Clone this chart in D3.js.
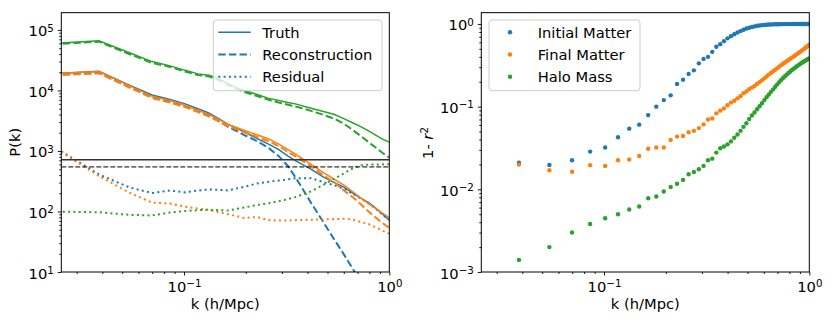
<!DOCTYPE html>
<html><head><meta charset="utf-8">
<script src="https://cdn.jsdelivr.net/npm/d3@7"></script>
<style>
body{margin:0;background:#fff}
svg{display:block}
text{font-family:"DejaVu Sans",sans-serif;fill:#000}
</style>
</head><body>
<svg id="c" width="831" height="322"></svg>
<script>
// ---------- data ----------
const kLine = [0.0228,0.0385,0.0542,0.0699,0.0856,0.1013,0.117,0.1327,0.1484,0.1641,0.1798,0.1955,0.2269,0.2583,0.2897,0.3211,0.3525,0.4153,0.4781,0.5409,0.6037,0.6665,0.7293,0.7921,0.8549,0.9177,0.9962];

const truthInitial = [1.9e4,2.07e4,1.22e4,8.4e3,7.1e3,6.0e3,5.0e3,4.2e3,3.4e3,2.75e3,2.4e3,2.1e3,1.6e3,1.3e3,1.05e3,820,680,500,370,300,250,200,165,140,115,93,73];
const reconInitial = [1.8e4,1.95e4,1.15e4,7.8e3,6.6e3,5.5e3,4.6e3,3.8e3,3.1e3,2.5e3,2.15e3,1.85e3,1.45e3,1.12e3,820,560,350,140,66,34,19,11,7,5,4,3,2];
const residInitial = [1.22e3,410,250,202,222,207,222,232,228,222,240,255,290,310,325,340,355,355,305,270,235,195,162,138,113,92,72];

const truthFinal = [1.9e4,2.05e4,1.2e4,8.0e3,6.8e3,5.7e3,4.7e3,4.0e3,3.3e3,2.75e3,2.45e3,2.2e3,1.85e3,1.58e3,1.3e3,1.05e3,870,600,440,340,270,210,165,135,114,96,80];
const reconFinal = [1.78e4,1.92e4,1.12e4,7.5e3,6.3e3,5.3e3,4.4e3,3.7e3,3.05e3,2.55e3,2.3e3,2.05e3,1.7e3,1.45e3,1.2e3,960,800,560,395,300,220,170,130,100,80,66,54];
const residFinal = [1.2e3,385,205,140,135,120,112,106,97,90,84,78,81,72,71,71,72,73,74,75,76,73,67,62,55,49,43];

const truthHalo = [5.95e4,6.6e4,4.2e4,3.0e4,2.55e4,2.15e4,1.88e4,1.78e4,1.55e4,1.3e4,1.12e4,1.0e4,8.6e3,7.4e3,6.8e3,6.3e3,5.95e3,5.1e3,4.5e3,4.0e3,3.4e3,2.9e3,2.5e3,2.15e3,1.85e3,1.6e3,1.4e3];
const reconHalo = [5.8e4,6.4e4,4.0e4,2.85e4,2.45e4,2.05e4,1.8e4,1.7e4,1.47e4,1.23e4,1.06e4,9.5e3,8.1e3,7.0e3,6.3e3,5.8e3,5.4e3,4.6e3,3.95e3,3.4e3,2.8e3,2.2e3,1.75e3,1.4e3,1.15e3,950,780];
const residHalo = [100,97,88,86,96,102,105,107,105,104,110,116,128,137,148,160,175,215,275,350,430,520,580,595,600,600,605];

const noiseLevels = [718, 545];

const kBins = [0.0385,0.0542,0.0699,0.0856,0.1013,0.117,0.1327,0.1484,0.1641,0.1798,0.1955,0.2112,0.2269,0.2426,0.2583,0.274,0.2897,0.3054,0.3211,0.3368,0.3525,0.3682,0.3839,0.3996,0.4153,0.431,0.4467,0.4624,0.4781,0.4938,0.5095,0.5252,0.5409,0.5566,0.5723,0.588,0.6037,0.6194,0.6351,0.6508,0.6665,0.6822,0.6979,0.7136,0.7293,0.745,0.7607,0.7764,0.7921,0.8078,0.8235,0.8392,0.8549,0.8706,0.8863,0.902,0.9177,0.9334,0.9491,0.9648,0.9805,0.9962];

const corrInitial = [0.021,0.0197,0.0225,0.0286,0.032,0.0427,0.0542,0.0606,0.079,0.10,0.12,0.137,0.188,0.212,0.249,0.275,0.334,0.378,0.40,0.46,0.53,0.57,
 0.62,0.67,0.71,0.75,0.79,0.82,0.85,0.88,0.90,0.92,0.935,0.95,0.96,0.968,0.975,0.98,0.984,0.987,0.99,0.992,0.993,0.994,0.995,0.996,0.996,0.997,0.997,0.997,0.998,0.998,0.998,0.998,0.998,0.999,0.999,0.999,0.999,0.999,0.999,0.999];
const corrFinal = [0.0199,0.017,0.0163,0.0196,0.0192,0.0225,0.0229,0.0253,0.031,0.032,0.032,0.0396,0.0434,0.0442,0.049,0.051,0.055,0.061,0.070,0.072,0.083,0.0895,
 0.095,0.104,0.112,0.118,0.126,0.134,0.145,0.153,0.163,0.170,0.178,0.188,0.198,0.208,0.220,0.232,0.244,0.256,0.268,0.28,0.292,0.305,0.318,0.33,0.342,0.355,0.367,0.38,0.392,0.405,0.418,0.432,0.446,0.46,0.475,0.49,0.506,0.522,0.54,0.557];
const corrHalo = [0.0014,0.0020,0.0030,0.0038,0.00447,0.0050,0.0057,0.0062,0.0078,0.0082,0.0094,0.0107,0.0117,0.013,0.0152,0.0162,0.0175,0.0192,0.0225,0.0235,0.0278,0.0314,
 0.033,0.035,0.038,0.042,0.046,0.051,0.057,0.063,0.071,0.078,0.085,0.093,0.101,0.11,0.12,0.13,0.14,0.151,0.162,0.174,0.186,0.198,0.21,0.222,0.233,0.244,0.255,0.266,0.277,0.288,0.298,0.308,0.318,0.328,0.338,0.347,0.356,0.365,0.374,0.383];

const leftLegend = ["Truth","Reconstruction","Residual"];
const rightLegend = ["Initial Matter","Final Matter","Halo Mass"];

// ---------- config ----------
const FS = 14.7;
const COL = {blue:"#1f77b4", orange:"#ff7f0e", green:"#2ca02c"};
const xDomain = [0.02525, 1];
const svg = d3.select("#c");

function makePanel(box, yDomain) {
  const x = d3.scaleLog().domain(xDomain).range([box.x0, box.x1]);
  const y = d3.scaleLog().domain(yDomain).range([box.y1, box.y0]);
  return {x, y, box};
}

function minorsFor(domain) {
  const out = [];
  const lo = Math.floor(Math.log10(domain[0])), hi = Math.ceil(Math.log10(domain[1]));
  for (let d = lo; d <= hi; d++) for (let m = 2; m <= 9; m++) {
    const v = m * Math.pow(10, d);
    if (v >= domain[0] * 0.9999 && v <= domain[1] * 1.0001) out.push(v);
  }
  return out;
}
function majorsFor(domain) {
  const out = [];
  const lo = Math.ceil(Math.log10(domain[0]) - 1e-6), hi = Math.floor(Math.log10(domain[1]) + 1e-6);
  for (let d = lo; d <= hi; d++) out.push(Math.pow(10, d));
  return out;
}
function powLabel(sel, v) {
  const e = Math.round(Math.log10(v));
  sel.text(null);
  sel.append("tspan").text("10");
  sel.append("tspan").attr("dy", "-0.48em").attr("font-size", (FS * 0.7) + "px")
     .text(e < 0 ? "\u2212" + (-e) : String(e));
}

function drawAxes(p) {
  const {x, y, box} = p;
  const g = svg.append("g");
  // x minor
  g.append("g").attr("transform", `translate(0,${box.y1})`)
    .call(d3.axisBottom(x).tickValues(minorsFor(xDomain)).tickSize(2).tickSizeOuter(0).tickFormat(() => ""))
    .call(s => s.select(".domain").remove());
  // x major
  const xa = g.append("g").attr("transform", `translate(0,${box.y1})`)
    .call(d3.axisBottom(x).tickValues(majorsFor(xDomain)).tickSize(3.5).tickSizeOuter(0))
    .call(s => s.select(".domain").remove());
  xa.selectAll(".tick text").attr("y", 19.7).attr("dy", null)
    .attr("font-size", FS + "px").attr("font-family", "DejaVu Sans")
    .each(function(v){ powLabel(d3.select(this), v); });
  // y minor
  const yd = y.domain();
  g.append("g").attr("transform", `translate(${box.x0},0)`)
    .call(d3.axisLeft(y).tickValues(minorsFor(yd)).tickSize(2).tickSizeOuter(0).tickFormat(() => ""))
    .call(s => s.select(".domain").remove());
  const ya = g.append("g").attr("transform", `translate(${box.x0},0)`)
    .call(d3.axisLeft(y).tickValues(majorsFor(yd)).tickSize(3.5).tickSizeOuter(0))
    .call(s => s.select(".domain").remove());
  ya.selectAll(".tick text").attr("x", -7.5).attr("dy", null).attr("y", 6)
    .attr("font-size", FS + "px").attr("font-family", "DejaVu Sans")
    .each(function(v){ powLabel(d3.select(this), v); });
  g.selectAll(".tick line").attr("stroke", "#000").attr("stroke-width", 0.9);
  // frame
  svg.append("rect").attr("x", box.x0).attr("y", box.y0)
    .attr("width", box.x1 - box.x0).attr("height", box.y1 - box.y0)
    .attr("fill", "none").attr("stroke", "#000").attr("stroke-width", 1);
  // x label
  svg.append("text").attr("x", (box.x0 + box.x1) / 2).attr("y", 308.5)
    .attr("text-anchor", "middle").attr("font-size", FS + "px").text("k (h/Mpc)");
}

// ---------- left panel ----------
const L = makePanel({x0:61.3, x1:389.3, y0:12.67, y1:272}, [10, 1.93e5]);
svg.append("clipPath").attr("id", "clipL").append("rect")
  .attr("x", L.box.x0).attr("y", L.box.y0).attr("width", L.box.x1 - L.box.x0).attr("height", L.box.y1 - L.box.y0);
const gl = svg.append("g").attr("clip-path", "url(#clipL)");
const line = d3.line().x(d => L.x(d[0])).y(d => L.y(Math.max(d[1], 1e-3)));
const zipK = arr => kLine.map((k, i) => [k, arr[i]]);

const series = [
  [truthInitial, COL.blue, "solid"], [reconInitial, COL.blue, "dashed"], [residInitial, COL.blue, "dotted"],
  [truthFinal, COL.orange, "solid"], [reconFinal, COL.orange, "dashed"], [residFinal, COL.orange, "dotted"],
  [truthHalo, COL.green, "solid"], [reconHalo, COL.green, "dashed"], [residHalo, COL.green, "dotted"]
];
const STY = {
  solid: {w:1.5, dash:null},
  dashed: {w:2, dash:"7.4,3.2"},
  dotted: {w:2, dash:"2,3.3"}
};
series.forEach(([arr, c, st]) => {
  gl.append("path").attr("d", line(zipK(arr))).attr("fill", "none")
    .attr("stroke", c).attr("stroke-width", STY[st].w)
    .attr("stroke-dasharray", STY[st].dash);
});
// noise levels
gl.append("line").attr("x1", L.box.x0).attr("x2", L.box.x1)
  .attr("y1", L.y(noiseLevels[0])).attr("y2", L.y(noiseLevels[0]))
  .attr("stroke", "#333").attr("stroke-width", 1.5);
gl.append("line").attr("x1", L.box.x0).attr("x2", L.box.x1)
  .attr("y1", L.y(noiseLevels[1])).attr("y2", L.y(noiseLevels[1]))
  .attr("stroke", "#000").attr("stroke-width", 1).attr("stroke-dasharray", "5,2");

drawAxes(L);
svg.append("text").attr("transform", "translate(19.5,142.3) rotate(-90)")
  .attr("text-anchor", "middle").attr("font-size", FS + "px").text("P(k)");

// left legend
const lg = svg.append("g");
lg.append("rect").attr("x", 213.3).attr("y", 20).attr("width", 168.7).attr("height", 70.7)
  .attr("rx", 3).attr("fill", "#fff").attr("fill-opacity", 0.8)
  .attr("stroke", "#ccc").attr("stroke-width", 1);
["solid","dashed","dotted"].forEach((st, i) => {
  const yy = 32.3 + i * 22.2;
  lg.append("line").attr("x1", 218.3).attr("x2", 250.7).attr("y1", yy).attr("y2", yy)
    .attr("stroke", COL.blue).attr("stroke-width", STY[st].w).attr("stroke-dasharray", STY[st].dash);
  lg.append("text").attr("x", 262.3).attr("y", yy + 5.5).attr("font-size", FS + "px").text(leftLegend[i]);
});

// ---------- right panel ----------
const R = makePanel({x0:481.3, x1:809.3, y0:12.67, y1:272}, [1e-3, 1.37]);
svg.append("clipPath").attr("id", "clipR").append("rect")
  .attr("x", R.box.x0).attr("y", R.box.y0).attr("width", R.box.x1 - R.box.x0).attr("height", R.box.y1 - R.box.y0);
const gr = svg.append("g").attr("clip-path", "url(#clipR)");
[[corrInitial, COL.blue], [corrFinal, COL.orange], [corrHalo, COL.green]].forEach(([arr, c]) => {
  gr.append("g").selectAll("circle").data(kBins.map((k, i) => [k, arr[i]]).filter(d => d[1] != null))
    .join("circle").attr("cx", d => R.x(d[0])).attr("cy", d => R.y(d[1])).attr("r", 2.2).attr("fill", c);
});
drawAxes(R);
const rl = svg.append("text").attr("transform", "translate(432.5,143) rotate(-90)")
  .attr("text-anchor", "middle").attr("font-size", FS + "px");
rl.append("tspan").text("1- ");
rl.append("tspan").attr("font-style", "italic").text("r");
rl.append("tspan").attr("dy", "-0.48em").attr("font-size", (FS * 0.7) + "px").text("2");

// right legend
const rg = svg.append("g");
rg.append("rect").attr("x", 489).attr("y", 20).attr("width", 151).attr("height", 70.7)
  .attr("rx", 3).attr("fill", "#fff").attr("fill-opacity", 0.8)
  .attr("stroke", "#ccc").attr("stroke-width", 1);
[COL.blue, COL.orange, COL.green].forEach((c, i) => {
  const yy = 32.3 + i * 22.2;
  rg.append("circle").attr("cx", 510).attr("cy", yy).attr("r", 2.2).attr("fill", c);
  rg.append("text").attr("x", 537.7).attr("y", yy + 5.5).attr("font-size", FS + "px").text(rightLegend[i]);
});
</script>
</body></html>
